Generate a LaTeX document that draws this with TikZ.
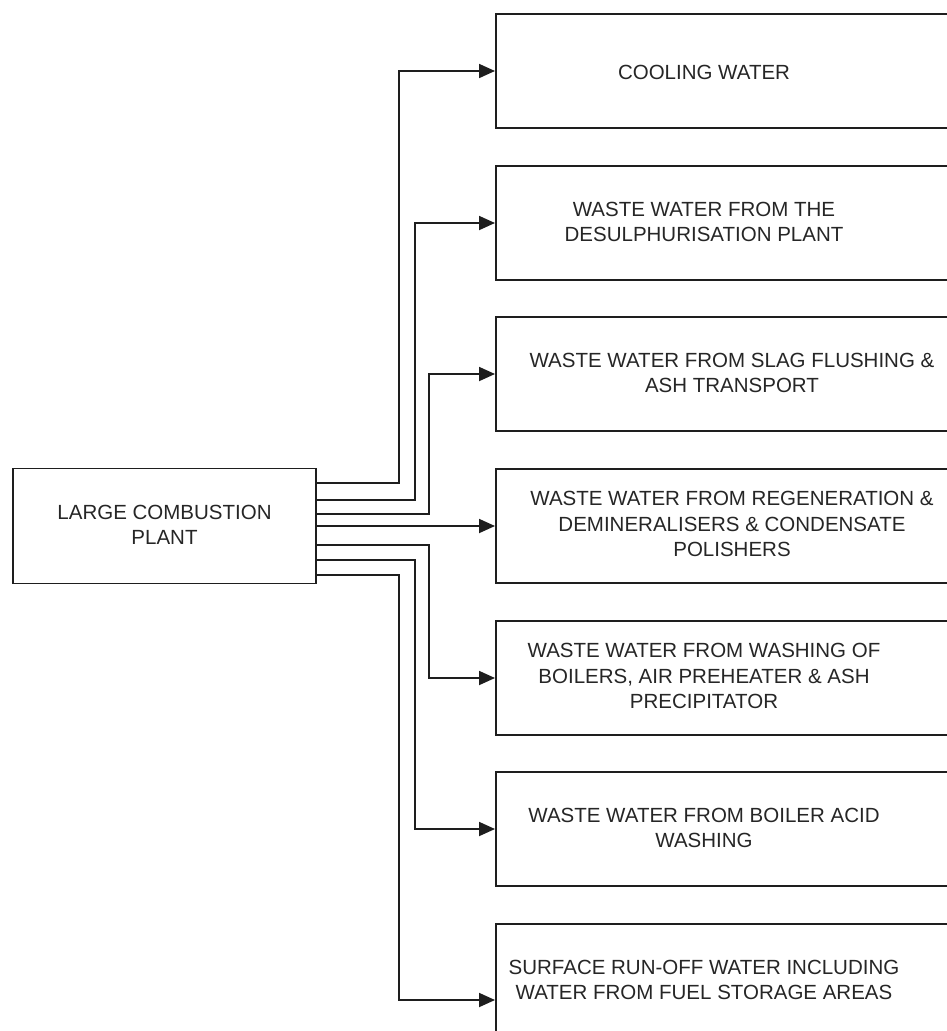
\documentclass[tikz,border=0pt]{standalone}
\usepackage{fontspec}
\setmainfont{Liberation Sans}
\usetikzlibrary{arrows.meta,calc}
\definecolor{ink}{HTML}{1E1E1E}
\definecolor{txt}{HTML}{262626}
\tikzset{
  every picture/.style={x=1pt,y=-1pt},
  box/.style={draw=ink,line width=1.9pt,rectangle,minimum width=560pt,minimum height=114pt,anchor=west,inner sep=0pt},
  lbl/.style={text=txt,align=center,font=\fontsize{20.5}{25.5}\selectfont,inner sep=0pt},
  conn/.style={draw=ink,line width=1.8pt,-{Triangle[length=16pt,width=14pt]}},
}
\begin{document}
\begin{tikzpicture}
\useasboundingbox (0,0) rectangle (947,1031);
\clip (0,0) rectangle (947,1031);
\fill[white] (0,0) rectangle (947,1031);
% left box
\node[draw=ink,line width=1.9pt,minimum width=303pt,minimum height=115pt,inner sep=0pt] (lcp) at (164.5,526) {};
\node[lbl] (lcpt) at (164.5,525) {LARGE COMBUSTION\\PLANT};
% right boxes
\node[box] (b1) at (495,71) {};
\node[box] (b2) at (495,223) {};
\node[box] (b3) at (495,374) {};
\node[box] (b4) at (495,526) {};
\node[box] (b5) at (495,678) {};
\node[box] (b6) at (495,829) {};
\node[box] (b7) at (495,981) {};
\node[lbl] (t1) at (704,72) {COOLING WATER};
\node[lbl] (t2) at (704,222) {WASTE WATER FROM THE\\DESULPHURISATION PLANT};
\node[lbl] (t3) at (732,373) {WASTE WATER FROM SLAG FLUSHING \&\\ASH TRANSPORT};
\node[lbl] (t4) at (732,524) {WASTE WATER FROM REGENERATION \&\\DEMINERALISERS \& CONDENSATE\\POLISHERS};
\node[lbl] (t5) at (704,676) {WASTE WATER FROM WASHING OF\\BOILERS, AIR PREHEATER \& ASH\\PRECIPITATOR};
\node[lbl] (t6) at (704,828) {WASTE WATER FROM BOILER ACID\\WASHING};
\node[lbl] (t7) at (704,980) {SURFACE RUN-OFF WATER INCLUDING\\WATER FROM FUEL STORAGE AREAS};
% vertical rails
\coordinate (va) at (399,0);
\coordinate (vb) at (415,0);
\coordinate (vc) at (429,0);
\coordinate (e7) at ([yshift=-19pt]b7.west);
% connectors
\draw[conn] ([yshift=43pt]lcp.east) -| (va |- b1.west) -- (b1.west);
\draw[conn] ([yshift=26pt]lcp.east) -| (vb |- b2.west) -- (b2.west);
\draw[conn] ([yshift=12pt]lcp.east) -| (vc |- b3.west) -- (b3.west);
\draw[conn] (lcp.east) -- (b4.west);
\draw[conn] ([yshift=-19pt]lcp.east) -| (vc |- b5.west) -- (b5.west);
\draw[conn] ([yshift=-34pt]lcp.east) -| (vb |- b6.west) -- (b6.west);
\draw[conn] ([yshift=-49pt]lcp.east) -| (va |- e7) -- (e7);
\end{tikzpicture}
\end{document}
